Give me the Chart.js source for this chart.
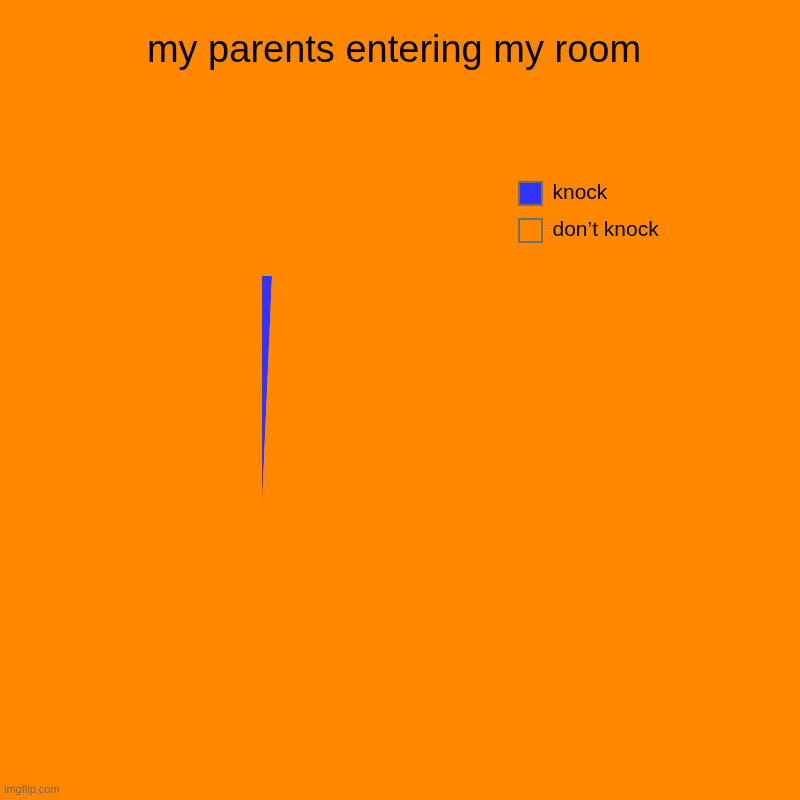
<!DOCTYPE html>
<html>
<head>
<meta charset="utf-8">
<script src="https://cdn.jsdelivr.net/npm/chart.js@4/dist/chart.umd.min.js"></script>
<style>
  body { margin: 0; background: #ff8800; }
  #wrap { position: relative; width: 800px; height: 800px; background: #ff8800; }
  #mark { position: absolute; left: 4px; top: 783px; font: 11px "Liberation Sans", Arial, sans-serif; color: #6a6a6a; }
</style>
</head>
<body>
<div id="wrap">
  <canvas id="chart" width="800" height="800"></canvas>
  <span id="mark">imgflip.com</span>
</div>
<script>
// Datos del gráfico
const titleText = 'my parents entering my room';
const labels = ['knock', 'don’t knock'];
const values = [1, 143];
const colors = ['#3333ff', '#ff8800'];

// Ancho fijo de la leyenda para que el título quede centrado como en la imagen
const legendWidth = {
    id: 'legendWidth',
    beforeUpdate(chart) {
        const legend = chart.legend;
        if (legend && !legend._fixedWidth) {
            const fit = legend.fit;
            legend.fit = function() {
                fit.call(this);
                this.width = 264;
            };
            legend._fixedWidth = true;
        }
    }
};

const ctx = document.getElementById('chart').getContext('2d');
new Chart(ctx, {
    type: 'pie',
    data: {
        labels: labels,
        datasets: [{
            data: values,
            backgroundColor: colors,
            borderWidth: 0,
            radius: 229
        }]
    },
    plugins: [legendWidth],
    options: {
        responsive: false,
        animation: false,
        layout: {
            autoPadding: false,
            padding: { left: 19, right: 31, top: 0, bottom: 0 }
        },
        plugins: {
            title: {
                display: true,
                text: titleText,
                color: '#000',
                font: { family: '"Liberation Sans", Arial, sans-serif', size: 38, weight: 'normal' },
                padding: { top: 29, bottom: 135.4 }
            },
            legend: {
                position: 'right',
                align: 'start',
                // título vacío: sólo sirve para bajar las entradas
                title: {
                    display: true,
                    text: '',
                    font: { size: 12 },
                    padding: { top: 0, bottom: 153.6 }
                },
                labels: {
                    color: '#000',
                    boxWidth: 23,
                    boxHeight: 23,
                    padding: 14,
                    font: { family: '"Liberation Sans", Arial, sans-serif', size: 21 },
                    generateLabels(chart) {
                        const items = Chart.overrides.pie.plugins.legend.labels.generateLabels(chart);
                        items.forEach(item => {
                            item.strokeStyle = '#6f6f6f';
                            item.lineWidth = 2;
                        });
                        return items;
                    }
                }
            },
            tooltip: { enabled: false }
        }
    }
});
</script>
</body>
</html>
